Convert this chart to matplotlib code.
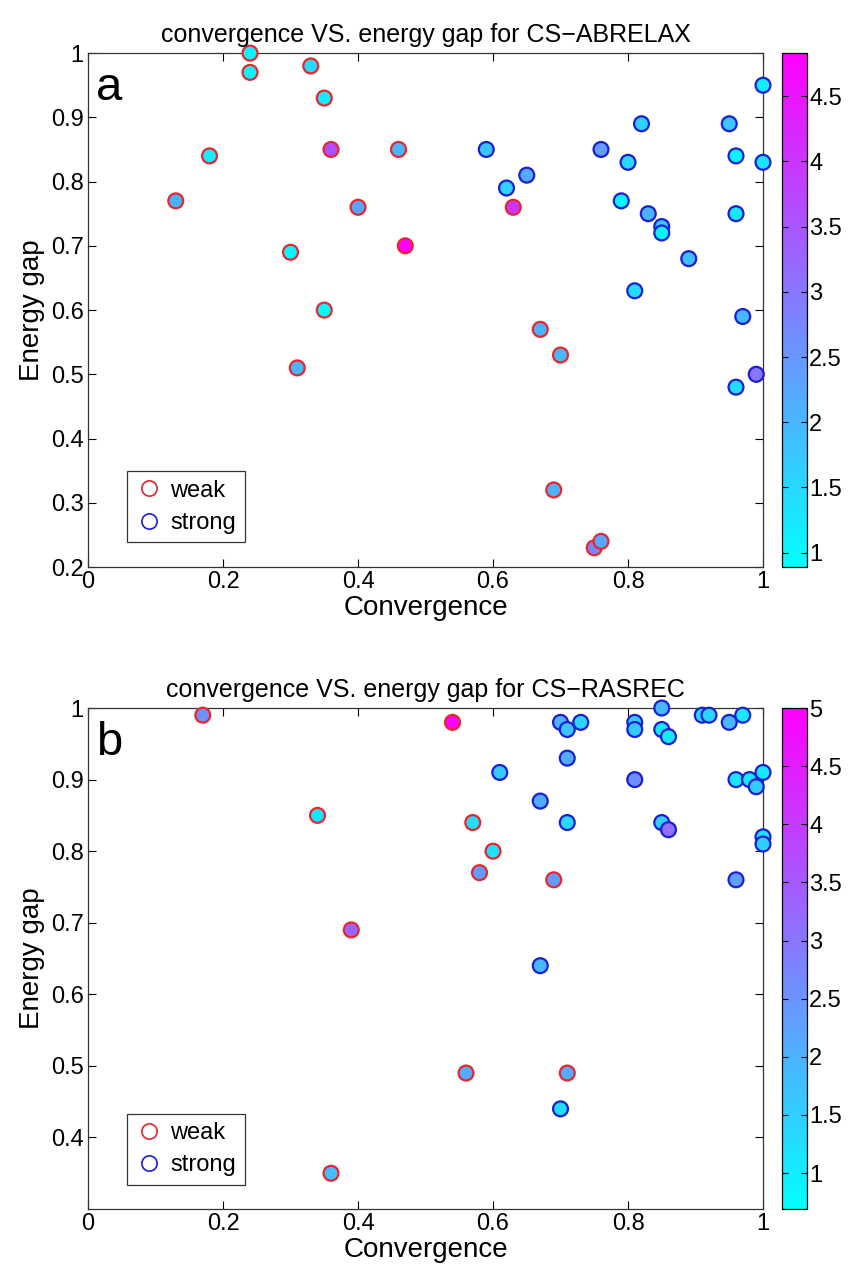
import numpy as np
import matplotlib
matplotlib.use("Agg")
import matplotlib.pyplot as plt
from matplotlib.lines import Line2D

plt.rcParams['font.family'] = ['Liberation Sans', 'DejaVu Sans']
plt.rcParams['axes.unicode_minus'] = True

# CS-ABRELAX
weak_a_x = [0.24, 0.24, 0.33, 0.35, 0.36, 0.46, 0.18, 0.13, 0.40, 0.47,
            0.30, 0.35, 0.31, 0.63, 0.67, 0.70, 0.69, 0.75, 0.76]
weak_a_y = [1.00, 0.97, 0.98, 0.93, 0.85, 0.85, 0.84, 0.77, 0.76, 0.70,
            0.69, 0.60, 0.51, 0.76, 0.57, 0.53, 0.32, 0.23, 0.24]
weak_a_c = [1.1, 1.1, 1.5, 1.2, 3.6, 2.0, 1.2, 2.1, 2.3, 4.8,
            1.1, 1.0, 2.0, 4.0, 2.1, 2.0, 2.1, 2.8, 2.2]
strong_a_x = [1.00, 0.59, 0.65, 0.62, 0.76, 0.82, 0.80, 0.79, 0.83, 0.85,
              0.85, 0.89, 0.81, 0.95, 0.96, 1.00, 0.96, 0.97, 0.99, 0.96]
strong_a_y = [0.95, 0.85, 0.81, 0.79, 0.85, 0.89, 0.83, 0.77, 0.75, 0.73,
              0.72, 0.68, 0.63, 0.89, 0.84, 0.83, 0.75, 0.59, 0.50, 0.48]
strong_a_c = [1.2, 1.8, 2.2, 1.6, 2.4, 1.6, 1.5, 1.1, 2.1, 1.7,
              1.1, 1.9, 1.4, 1.8, 1.1, 1.3, 1.3, 2.0, 3.0, 1.4]

# CS-RASREC
weak_b_x = [0.17, 0.34, 0.39, 0.54, 0.57, 0.60, 0.58, 0.69, 0.36, 0.56, 0.71]
weak_b_y = [0.99, 0.85, 0.69, 0.98, 0.84, 0.80, 0.77, 0.76, 0.35, 0.49, 0.49]
weak_b_c = [2.6, 1.2, 3.3, 4.9, 1.3, 1.2, 2.4, 2.4, 1.8, 2.1, 2.1]
strong_b_x = [0.70, 0.71, 0.73, 0.81, 0.81, 0.85, 0.85, 0.86, 0.91, 0.92,
              0.95, 0.97, 0.71, 0.61, 0.81, 0.96, 0.98, 0.99, 1.00, 0.67,
              0.71, 0.85, 0.86, 1.00, 1.00, 0.96, 0.70, 0.67]
strong_b_y = [0.98, 0.97, 0.98, 0.98, 0.97, 1.00, 0.97, 0.96, 0.99, 0.99,
              0.98, 0.99, 0.93, 0.91, 0.90, 0.90, 0.90, 0.89, 0.91, 0.87,
              0.84, 0.84, 0.83, 0.82, 0.81, 0.76, 0.44, 0.64]
strong_b_c = [2.0, 1.7, 1.4, 1.6, 1.6, 1.9, 1.1, 1.1, 1.4, 1.4,
              1.9, 1.1, 2.1, 1.6, 2.6, 1.1, 1.1, 1.5, 1.1, 2.1,
              1.4, 1.5, 3.1, 1.2, 1.5, 2.3, 1.3, 1.9]

panels = [
    ("a", "convergence VS. energy gap for CS\u2212ABRELAX",
     weak_a_x, weak_a_y, weak_a_c, strong_a_x, strong_a_y, strong_a_c,
     (0.2, 1.0), np.arange(0.2, 1.01, 0.1), (0.89, 4.83), [1, 1.5, 2, 2.5, 3, 3.5, 4, 4.5]),
    ("b", "convergence VS. energy gap for CS\u2212RASREC",
     weak_b_x, weak_b_y, weak_b_c, strong_b_x, strong_b_y, strong_b_c,
     (0.3, 1.0), np.arange(0.4, 1.01, 0.1), (0.69, 5.0), [1, 1.5, 2, 2.5, 3, 3.5, 4, 4.5, 5]),
]

fig = plt.figure(figsize=(8.49, 12.70), dpi=100)
ax_rects = [[0.1037, 0.5535, 0.795, 0.4047], [0.1037, 0.0480, 0.795, 0.3945]]
cb_rects = [[0.9205, 0.5535, 0.0295, 0.4047], [0.9205, 0.0480, 0.0295, 0.3945]]

def fmt(v):
    s = f"{v:.1f}".rstrip("0").rstrip(".")
    return s

for (letter, title, wx, wy, wc, sx, sy, sc, ylim, yticks, clim, cticks), r, cr in zip(panels, ax_rects, cb_rects):
    ax = fig.add_axes(r)
    cax = fig.add_axes(cr)
    ax.scatter(wx, wy, c=wc, cmap='cool', vmin=clim[0], vmax=clim[1], s=115,
               edgecolors='#e8262b', linewidths=1.6, clip_on=False, zorder=3)
    sc_ = ax.scatter(sx, sy, c=sc, cmap='cool', vmin=clim[0], vmax=clim[1], s=115,
                     edgecolors='#1a1fd6', linewidths=1.6, clip_on=False, zorder=3)
    ax.set_xlim(0, 1)
    ax.set_ylim(*ylim)
    xt = [0, 0.2, 0.4, 0.6, 0.8, 1]
    ax.set_xticks(xt)
    ax.set_xticklabels([fmt(v) for v in xt])
    ax.set_yticks(yticks)
    ax.set_yticklabels([fmt(v) for v in yticks])
    ax.tick_params(direction='in', top=True, right=True, labelsize=17, length=6, width=0.8, pad=3)
    for sp in ax.spines.values():
        sp.set_linewidth(0.9)
        sp.set_color('#333333')
    ax.set_xlabel("Convergence", fontsize=20, labelpad=1)
    ax.set_ylabel("Energy gap", fontsize=20, labelpad=4)
    ax.set_title(title, fontsize=18, pad=8)
    ax.text(0.012, 0.975, letter, transform=ax.transAxes, fontsize=34, va='top', ha='left')

    handles = [Line2D([], [], marker='o', linestyle='none', markerfacecolor='none',
                      markeredgecolor='#e8262b', markersize=11, markeredgewidth=1.2, label='weak'),
               Line2D([], [], marker='o', linestyle='none', markerfacecolor='none',
                      markeredgecolor='#1a1fd6', markersize=11, markeredgewidth=1.2, label='strong')]
    leg = ax.legend(handles=handles, loc='lower left', bbox_to_anchor=(0.04, 0.025),
                    fontsize=17, frameon=True, fancybox=False, edgecolor='black',
                    handletextpad=0.3, borderpad=0.35, labelspacing=0.45, handlelength=1.2)
    leg.get_frame().set_linewidth(0.9)

    cb = fig.colorbar(sc_, cax=cax)
    cb.set_ticks(cticks)
    cb.set_ticklabels([fmt(v) for v in cticks])
    cb.ax.tick_params(direction='in', left=True, right=True, labelsize=17, length=4, width=0.8, pad=2)
    cb.outline.set_linewidth(0.9)

fig.savefig("out.png", dpi=100)
